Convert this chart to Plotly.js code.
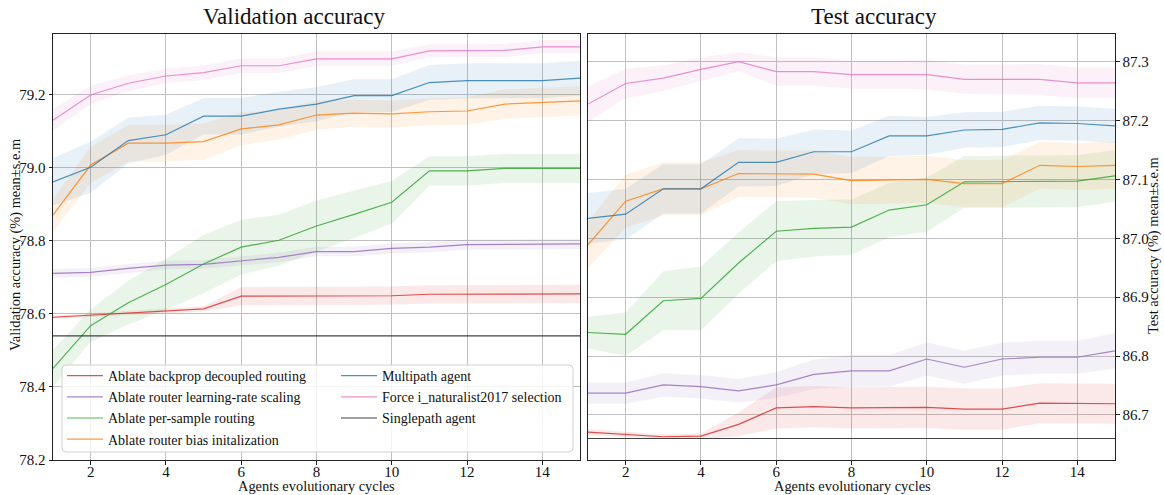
<!DOCTYPE html>
<html>
<head>
<meta charset="utf-8">
<script src="https://cdn.plot.ly/plotly-3.0.1.min.js"></script>
<style>html,body{margin:0;padding:0;background:#fff}#chart{width:1164px;height:495px}</style>
</head>
<body>
<div id="chart"></div>
<script>
// ---------- data ----------
var cycles = [1, 2, 3, 4, 5, 6, 7, 8, 9, 10, 11, 12, 13, 14, 15];
var seriesNames = ["Ablate backprop decoupled routing", "Ablate router learning-rate scaling", "Ablate per-sample routing", "Ablate router bias initalization", "Multipath agent", "Force i_naturalist2017 selection", "Singlepath agent"];

// Validation accuracy (mean) and s.e.m
var valBackprop = [78.591, 78.597, 78.603, 78.609, 78.614, 78.649, 78.649, 78.650, 78.650, 78.650, 78.654, 78.654, 78.655, 78.655, 78.655];
var valBackpropSem = [0.005, 0.005, 0.006, 0.006, 0.007, 0.025, 0.025, 0.025, 0.025, 0.025, 0.025, 0.025, 0.025, 0.025, 0.025];
var valLrScaling = [78.711, 78.714, 78.725, 78.734, 78.736, 78.745, 78.755, 78.771, 78.771, 78.780, 78.783, 78.790, 78.790, 78.790, 78.792];
var valLrScalingSem = [0.012, 0.012, 0.012, 0.012, 0.012, 0.012, 0.013, 0.013, 0.013, 0.014, 0.014, 0.014, 0.014, 0.014, 0.014];
var valPerSample = [78.451, 78.568, 78.631, 78.681, 78.737, 78.783, 78.802, 78.841, 78.873, 78.906, 78.992, 78.992, 78.999, 78.999, 78.999];
var valPerSampleSem = [0.05, 0.045, 0.06, 0.07, 0.08, 0.075, 0.07, 0.07, 0.065, 0.058, 0.04, 0.04, 0.04, 0.04, 0.04];
var valBiasInit = [78.871, 79.008, 79.068, 79.068, 79.072, 79.107, 79.118, 79.145, 79.150, 79.148, 79.154, 79.156, 79.175, 79.179, 79.184];
var valBiasInitSem = [0.045, 0.05, 0.05, 0.05, 0.05, 0.045, 0.04, 0.04, 0.037, 0.037, 0.037, 0.038, 0.04, 0.04, 0.04];
var valMultipath = [78.962, 79.002, 79.075, 79.091, 79.142, 79.142, 79.161, 79.175, 79.198, 79.198, 79.234, 79.239, 79.239, 79.239, 79.246];
var valMultipathSem = [0.065, 0.07, 0.063, 0.055, 0.05, 0.05, 0.048, 0.047, 0.045, 0.045, 0.048, 0.048, 0.048, 0.048, 0.048];
var valForce = [79.131, 79.200, 79.232, 79.252, 79.261, 79.280, 79.280, 79.299, 79.299, 79.299, 79.321, 79.321, 79.322, 79.332, 79.332];
var valForceSem = [0.03, 0.025, 0.022, 0.02, 0.02, 0.02, 0.02, 0.02, 0.02, 0.02, 0.018, 0.018, 0.018, 0.018, 0.018];
var valSinglepath = 78.54;

// Test accuracy (mean) and s.e.m
var testBackprop = [86.671, 86.667, 86.663, 86.664, 86.684, 86.712, 86.714, 86.712, 86.712, 86.713, 86.710, 86.710, 86.720, 86.719, 86.719];
var testBackpropSem = [0.005, 0.005, 0.004, 0.005, 0.02, 0.035, 0.035, 0.035, 0.035, 0.035, 0.035, 0.035, 0.034, 0.034, 0.034];
var testLrScaling = [86.737, 86.737, 86.751, 86.748, 86.741, 86.751, 86.769, 86.775, 86.775, 86.795, 86.781, 86.795, 86.798, 86.798, 86.809];
var testLrScalingSem = [0.018, 0.018, 0.02, 0.02, 0.02, 0.022, 0.025, 0.027, 0.027, 0.028, 0.028, 0.028, 0.028, 0.028, 0.03];
var testPerSample = [86.840, 86.837, 86.894, 86.898, 86.958, 87.012, 87.017, 87.019, 87.048, 87.057, 87.096, 87.096, 87.096, 87.097, 87.106];
var testPerSampleSem = [0.027, 0.037, 0.05, 0.054, 0.052, 0.051, 0.048, 0.047, 0.046, 0.046, 0.044, 0.044, 0.044, 0.044, 0.044];
var testBiasInit = [86.989, 87.063, 87.084, 87.084, 87.110, 87.109, 87.109, 87.098, 87.099, 87.100, 87.093, 87.093, 87.124, 87.122, 87.124];
var testBiasInitSem = [0.04, 0.045, 0.045, 0.045, 0.04, 0.04, 0.04, 0.04, 0.04, 0.04, 0.04, 0.04, 0.04, 0.04, 0.04];
var testMultipath = [87.034, 87.041, 87.084, 87.084, 87.129, 87.129, 87.147, 87.147, 87.174, 87.174, 87.184, 87.185, 87.196, 87.195, 87.191];
var testMultipathSem = [0.043, 0.043, 0.042, 0.042, 0.041, 0.04, 0.038, 0.036, 0.034, 0.032, 0.03, 0.03, 0.029, 0.029, 0.029];
var testForce = [87.228, 87.263, 87.272, 87.287, 87.300, 87.283, 87.283, 87.278, 87.278, 87.278, 87.270, 87.270, 87.270, 87.264, 87.264];
var testForceSem = [0.03, 0.025, 0.022, 0.02, 0.016, 0.024, 0.024, 0.024, 0.024, 0.025, 0.025, 0.025, 0.026, 0.026, 0.026];
var testSinglepath = 86.66;

var xTitle = "Agents evolutionary cycles";

// ---------- styling ----------
var colors = ["#d62728", "#9467bd", "#2ca02c", "#ff7f0e", "#1f77b4", "#e377c2", "#222222"];
function rgba(hex, a) {
  var r = parseInt(hex.substr(1, 2), 16), g = parseInt(hex.substr(3, 2), 16), b = parseInt(hex.substr(5, 2), 16);
  return "rgba(" + r + "," + g + "," + b + "," + a + ")";
}
var FONT = "Liberation Serif, Times New Roman, serif";

var valSeries = [[valBackprop, valBackpropSem], [valLrScaling, valLrScalingSem], [valPerSample, valPerSampleSem], [valBiasInit, valBiasInitSem], [valMultipath, valMultipathSem], [valForce, valForceSem]];
var testSeries = [[testBackprop, testBackpropSem], [testLrScaling, testLrScalingSem], [testPerSample, testPerSampleSem], [testBiasInit, testBiasInitSem], [testMultipath, testMultipathSem], [testForce, testForceSem]];

var traces = [];
function addPanel(series, single, xa, ya, withLegend) {
  series.forEach(function (s, i) {
    var m = s[0], e = s[1];
    var up = m.map(function (v, k) { return v + e[k]; });
    var lo = m.map(function (v, k) { return v - e[k]; });
    traces.push({
      x: cycles.concat(cycles.slice().reverse()),
      y: up.concat(lo.slice().reverse()),
      xaxis: xa, yaxis: ya, type: "scatter", mode: "lines",
      fill: "toself", fillcolor: rgba(colors[i], 0.1),
      line: { width: 0 }, hoverinfo: "skip", showlegend: false
    });
  });
  series.forEach(function (s, i) {
    traces.push({
      x: cycles, y: s[0], xaxis: xa, yaxis: ya, type: "scatter", mode: "lines",
      name: seriesNames[i], line: { color: rgba(colors[i], 0.8), width: 1.2 },
      showlegend: withLegend, legend: i < 4 ? "legend" : "legend2"
    });
  });
  traces.push({
    x: [cycles[0], cycles[cycles.length - 1]], y: [single, single], xaxis: xa, yaxis: ya,
    type: "scatter", mode: "lines", name: seriesNames[6],
    line: { color: rgba("#222222", 0.85), width: 1.2 }, showlegend: withLegend, legend: "legend2"
  });
}
addPanel(valSeries, valSinglepath, "x", "y", true);
addPanel(testSeries, testSinglepath, "x2", "y2", false);

// ---------- layout ----------
var L = 53, R = 49, T = 34, B = 35, W = 1164, H = 495;
var pw = W - L - R, ph = H - T - B;
function px(xp) { return (xp - L) / pw; }
function py(yp) { return (H - B - yp) / ph; }

var axCommon = {
  showline: true, mirror: true, linecolor: "#222", linewidth: 1,
  ticks: "outside", ticklen: 3.5, tickcolor: "#222", tickwidth: 1,
  showgrid: true, gridcolor: "#c0c0c0", gridwidth: 1, zeroline: false,
  tickfont: { family: FONT, size: 15, color: "#111" }
};
function ax(extra) { var o = JSON.parse(JSON.stringify(axCommon)); for (var k in extra) o[k] = extra[k]; return o; }

var bx0 = px(62), bx1 = px(573), by0 = py(452), by1 = py(365);
var rx = 4 / pw, ry = 4 / ph;
var boxPath = "M" + (bx0 + rx) + "," + by1 + " L" + (bx1 - rx) + "," + by1 +
  " Q" + bx1 + "," + by1 + " " + bx1 + "," + (by1 - ry) +
  " L" + bx1 + "," + (by0 + ry) + " Q" + bx1 + "," + by0 + " " + (bx1 - rx) + "," + by0 +
  " L" + (bx0 + rx) + "," + by0 + " Q" + bx0 + "," + by0 + " " + bx0 + "," + (by0 + ry) +
  " L" + bx0 + "," + (by1 - ry) + " Q" + bx0 + "," + by1 + " " + (bx0 + rx) + "," + by1 + " Z";

var layout = {
  width: W, height: H,
  margin: { l: L, r: R, t: T, b: B },
  paper_bgcolor: "#fff", plot_bgcolor: "#fff",
  font: { family: FONT, size: 14.4, color: "#111" },
  xaxis: ax({ domain: [0, 527 / pw], range: [1, 15], tick0: 0, dtick: 2, anchor: "y", ticklabelstandoff: -6 }),
  yaxis: ax({ range: [78.2, 79.367], tick0: 78.2, dtick: 0.2, tickformat: ".1f", anchor: "x" }),
  xaxis2: ax({ domain: [535 / pw, 1], range: [1, 15], tick0: 0, dtick: 2, anchor: "y2", ticklabelstandoff: -6 }),
  yaxis2: ax({ range: [86.6235, 87.347], tick0: 86.6, dtick: 0.1, tickformat: ".1f", anchor: "x2", side: "right" }),
  showlegend: true,
  legend: { x: px(62), y: py(360), xanchor: "left", yanchor: "top", bgcolor: "rgba(0,0,0,0)",
    borderwidth: 0, font: { family: FONT, size: 14, color: "#111" }, itemwidth: 36, tracegroupgap: 0 },
  legend2: { x: px(336), y: py(360), xanchor: "left", yanchor: "top", bgcolor: "rgba(0,0,0,0)",
    borderwidth: 0, font: { family: FONT, size: 14, color: "#111" }, itemwidth: 36, tracegroupgap: 0 },
  shapes: [{ type: "path", xref: "paper", yref: "paper", path: boxPath, layer: "above",
    fillcolor: "rgba(255,255,255,0.82)", line: { color: "#d0d0d0", width: 1 } }],
  annotations: [
    { text: "Validation accuracy", xref: "paper", yref: "paper", x: px(294), y: py(16), xanchor: "center", yanchor: "middle",
      showarrow: false, font: { family: FONT, size: 23, color: "#111" } },
    { text: "Test accuracy", xref: "paper", yref: "paper", x: px(874), y: py(16), xanchor: "center", yanchor: "middle",
      showarrow: false, font: { family: FONT, size: 23, color: "#111" } },
    { text: xTitle, xref: "paper", yref: "paper", x: px(316.5), y: py(486), xanchor: "center", yanchor: "middle",
      showarrow: false, font: { family: FONT, size: 14.4, color: "#111" } },
    { text: xTitle, xref: "paper", yref: "paper", x: px(852), y: py(486), xanchor: "center", yanchor: "middle",
      showarrow: false, font: { family: FONT, size: 14.4, color: "#111" } },
    { text: "Validation accuracy (%) mean±s.e.m", xref: "paper", yref: "paper", x: px(15), y: py(245), xanchor: "center", yanchor: "middle",
      textangle: -90, showarrow: false, font: { family: FONT, size: 14.4, color: "#111" } },
    { text: "Test accuracy (%) mean±s.e.m", xref: "paper", yref: "paper", x: px(1154), y: py(246), xanchor: "center", yanchor: "middle",
      textangle: -90, showarrow: false, font: { family: FONT, size: 14.4, color: "#111" } }
  ]
};

Plotly.newPlot("chart", traces, layout, { displayModeBar: false, staticPlot: true });
</script>
</body>
</html>
